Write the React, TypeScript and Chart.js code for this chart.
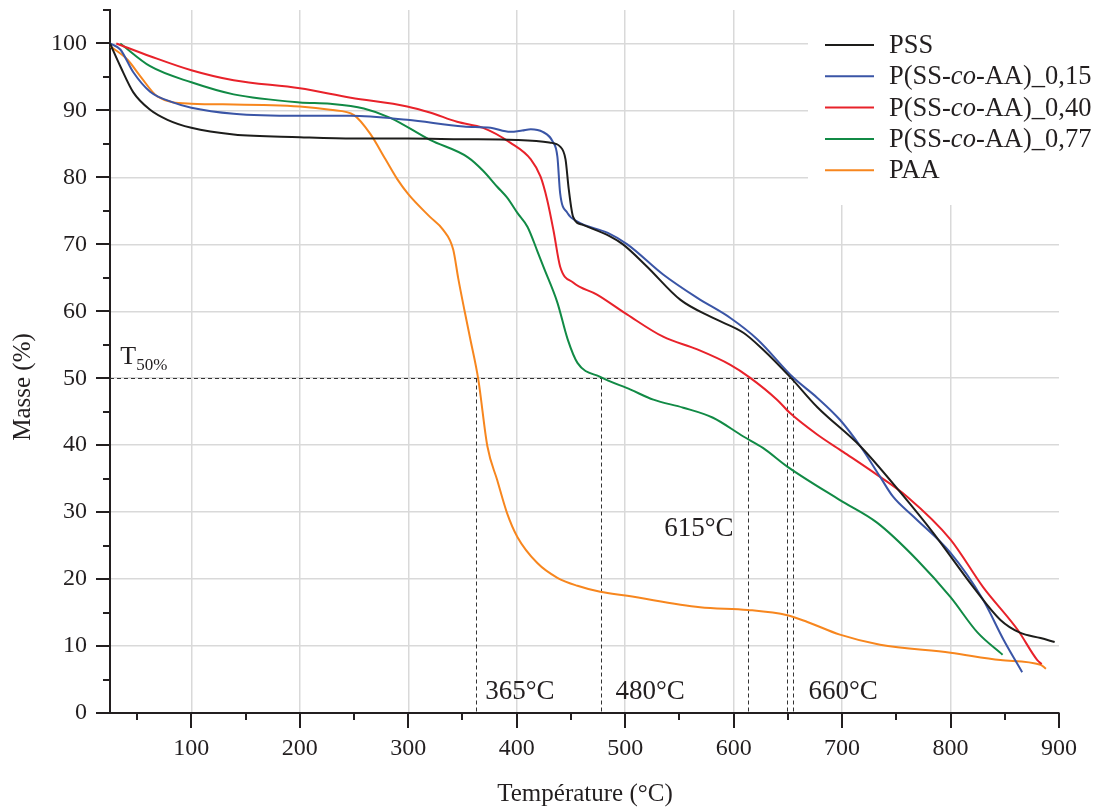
import React, { useEffect, useRef } from "react";
import { Chart, registerables } from "chart.js";

Chart.register(...registerables);

// ---- Data (temperature °C, mass %) ----
const pssT = [25, 34.5, 46.5, 62, 78, 100, 139, 200, 250, 300, 350, 400, 430, 440, 445, 448, 452, 461, 486, 498, 520, 551, 581, 609, 627, 652, 677, 717, 754, 784, 821, 846, 864, 883, 896];
const pssM = [100, 96.6, 92.7, 90.1, 88.6, 87.4, 86.4, 86.0, 85.8, 85.8, 85.7, 85.6, 85.2, 84.6, 82.7, 78.2, 74.1, 72.9, 71.2, 70.0, 66.7, 61.7, 59.0, 56.8, 54.3, 50.2, 45.7, 39.8, 32.9, 26.9, 18.8, 13.9, 12.0, 11.2, 10.6];

const p15T = [25, 34.5, 46.5, 62, 83, 100, 139, 200, 247, 299, 351, 376, 394, 405, 413, 424, 433, 437.5, 440, 446.7, 456, 484, 502, 535, 566.5, 597, 622, 655, 677, 698, 717, 735, 747, 766, 800, 830, 849, 866];
const p15M = [100, 99.1, 95.7, 92.8, 91.2, 90.4, 89.5, 89.2, 89.2, 88.6, 87.6, 87.4, 86.8, 87.0, 87.2, 86.8, 85.4, 83.1, 77.7, 74.7, 73.4, 71.7, 70.0, 65.5, 62.0, 59.0, 55.8, 50.1, 47.1, 43.8, 39.8, 35.3, 32.3, 29.3, 23.9, 16.9, 10.9, 6.1];

const p40T = [30.8, 62, 100, 139, 200, 247, 299, 320, 345, 369, 394, 413, 422, 428, 434, 440, 452, 474, 502, 535, 566.5, 597, 615, 640, 652, 677, 701, 732, 760, 800, 830, 862, 880, 884];
const p40M = [100, 98.1, 96.0, 94.5, 93.3, 91.9, 90.6, 89.7, 88.3, 87.4, 85.2, 82.7, 80.1, 76.7, 72.0, 66.7, 64.3, 62.5, 59.5, 56.2, 54.3, 52.0, 50.1, 46.8, 44.8, 41.6, 39.0, 35.6, 32.3, 25.9, 18.8, 12.4, 7.9, 7.3];

const p77T = [34.5, 62, 100, 139, 200, 228, 259, 283.5, 320, 355, 369, 382, 391, 400.6, 410, 419, 424.5, 437.5, 447, 456, 477, 505, 526, 553.6, 581, 609, 627, 649.5, 698, 732.5, 769, 800, 825, 848];
const p77M = [100, 96.6, 94.2, 92.4, 91.2, 91.0, 90.3, 88.9, 85.6, 83.0, 81.0, 78.6, 77.0, 74.7, 72.6, 69.0, 66.7, 61.3, 55.8, 52.3, 50.2, 48.3, 46.8, 45.6, 44.1, 41.3, 39.6, 36.8, 31.8, 28.4, 22.9, 17.3, 12.0, 8.7];

const paaT = [25, 41, 53, 68.6, 100, 139, 200, 228, 250, 265, 279, 290, 300, 320, 332, 341.5, 346, 352, 357, 364.6, 373, 382, 391, 400.6, 419, 437.5, 456, 477, 502, 569, 613, 649.5, 668, 698, 735, 800, 846, 883, 888];
const paaM = [99.6, 97.6, 95.1, 92.1, 91.0, 90.9, 90.6, 90.1, 89.3, 86.5, 82.7, 79.7, 77.5, 74.1, 72.2, 69.2, 65.0, 60.0, 56.0, 49.8, 39.8, 34.8, 29.9, 26.3, 22.4, 20.2, 19.0, 18.1, 17.5, 15.8, 15.4, 14.6, 13.6, 11.7, 10.2, 9.0, 7.9, 7.2, 6.6];

const seriesNames = ["PSS", "P(SS-co-AA)_0,15", "P(SS-co-AA)_0,40", "P(SS-co-AA)_0,77", "PAA"];
const seriesColors = ["#1d1d1b", "#3a55a6", "#e8222a", "#118a45", "#f7861e"];
const seriesT = [pssT, p15T, p40T, p77T, paaT];
const seriesM = [pssM, p15M, p40M, p77M, paaM];

// axis ticks
const xTicks = [100, 200, 300, 400, 500, 600, 700, 800, 900];
const yTicks = [0, 10, 20, 30, 40, 50, 60, 70, 80, 90, 100];

// T50% annotation
const t50Level = 50;
const t50Temps = [362, 478, 613.5, 649.5, 655];
const t50Labels = ["365°C", "480°C", "615°C", "660°C"];
const t50LabelT = [371, 491, 536, 669];
const t50LabelM = [2.1, 2.1, 26.5, 2.1];

const FONT = "'Liberation Serif', 'Times New Roman', serif";
const INK = "#231f20";

const overlayPlugin = {
  id: "overlay",
  beforeDatasetsDraw(chart: any) {
    const { ctx, scales } = chart;
    const x = scales.x, y = scales.y;
    ctx.save();
    // legend background hides grid
    ctx.fillStyle = "#ffffff";
    ctx.fillRect(808, 0, 1097 - 808, 205);
    // dashed T50 lines
    ctx.strokeStyle = "#333333";
    ctx.lineWidth = 1;
    ctx.setLineDash([4, 3]);
    const y50 = Math.round(y.getPixelForValue(t50Level)) + 0.5;
    const y0 = y.getPixelForValue(0);
    ctx.beginPath();
    ctx.moveTo(x.left, y50);
    ctx.lineTo(x.getPixelForValue(Math.max(...t50Temps)), y50);
    ctx.stroke();
    t50Temps.forEach((t) => {
      const px = Math.round(x.getPixelForValue(t)) + 0.5;
      ctx.beginPath();
      ctx.moveTo(px, y50);
      ctx.lineTo(px, y0);
      ctx.stroke();
    });
    ctx.restore();
  },
  afterDraw(chart: any) {
    const { ctx, scales } = chart;
    const x = scales.x, y = scales.y;
    ctx.save();
    ctx.strokeStyle = INK;
    ctx.lineWidth = 2;
    // y ticks
    for (let v = 0; v <= 105; v += 5) {
      const py = Math.round(y.getPixelForValue(v));
      const len = v % 10 === 0 ? 14 : 7;
      ctx.beginPath();
      ctx.moveTo(x.left - len, py);
      ctx.lineTo(x.left, py);
      ctx.stroke();
    }
    // x ticks
    for (let v = 50; v <= 900; v += 50) {
      const px = Math.round(x.getPixelForValue(v));
      const len = v % 100 === 0 ? 15 : 7;
      ctx.beginPath();
      ctx.moveTo(px, y.bottom);
      ctx.lineTo(px, y.bottom + len);
      ctx.stroke();
    }
    // annotation labels
    ctx.fillStyle = INK;
    ctx.textBaseline = "alphabetic";
    ctx.textAlign = "left";
    ctx.font = `27px ${FONT}`;
    t50Labels.forEach((lbl, i) => {
      ctx.fillText(lbl, x.getPixelForValue(t50LabelT[i]), y.getPixelForValue(t50LabelM[i]));
    });
    // T50%
    const tx = x.getPixelForValue(34.5);
    const ty = y.getPixelForValue(52.2);
    ctx.font = `26px ${FONT}`;
    ctx.fillText("T", tx, ty);
    const tw = ctx.measureText("T").width;
    ctx.font = `17px ${FONT}`;
    ctx.fillText("50%", tx + tw, ty + 6);
    // axis titles
    ctx.font = `25px ${FONT}`;
    ctx.textAlign = "center";
    ctx.fillText("Température (°C)", 585, 801);
    ctx.save();
    ctx.translate(30, 387);
    ctx.rotate(-Math.PI / 2);
    ctx.fillText("Masse (%)", 0, 0);
    ctx.restore();
    // legend
    ctx.textAlign = "left";
    ctx.textBaseline = "middle";
    const LF = 26.5;
    seriesNames.forEach((name, i) => {
      const ly = 45 + i * 31.3;
      ctx.strokeStyle = seriesColors[i];
      ctx.lineWidth = 2;
      ctx.beginPath();
      ctx.moveTo(825, ly);
      ctx.lineTo(874, ly);
      ctx.stroke();
      ctx.fillStyle = INK;
      let cx = 889;
      const parts = name.split("co");
      if (parts.length === 2) {
        ctx.font = `${LF}px ${FONT}`;
        ctx.fillText(parts[0], cx, ly + 1);
        cx += ctx.measureText(parts[0]).width;
        ctx.font = `italic ${LF}px ${FONT}`;
        ctx.fillText("co", cx, ly + 1);
        cx += ctx.measureText("co").width;
        ctx.font = `${LF}px ${FONT}`;
        ctx.fillText(parts[1], cx, ly + 1);
      } else {
        ctx.font = `${LF}px ${FONT}`;
        ctx.fillText(name, cx, ly + 1);
      }
    });
    ctx.restore();
  },
};

export default function App() {
  const ref = useRef<HTMLCanvasElement>(null);
  useEffect(() => {
    document.body.style.margin = "0";
    const canvas = ref.current!;
    const datasets = seriesNames.map((name, i) => ({
      label: name,
      data: seriesT[i].map((t, j) => ({ x: t, y: seriesM[i][j] })),
      borderColor: seriesColors[i],
      backgroundColor: seriesColors[i],
      borderWidth: 2,
      pointRadius: 0,
      fill: false,
      cubicInterpolationMode: "monotone" as const,
    }));
    const chart = new Chart(canvas, {
      type: "line",
      data: { datasets },
      plugins: [overlayPlugin],
      options: {
        animation: false,
        responsive: false,
        devicePixelRatio: 1,
        layout: { padding: { left: 0, right: 38, top: 10, bottom: 0 } },
        plugins: { legend: { display: false }, tooltip: { enabled: false } },
        scales: {
          x: {
            type: "linear",
            min: 25,
            max: 900,
            afterBuildTicks: (s: any) => {
              s.ticks = xTicks.map((v) => ({ value: v }));
            },
            afterFit: (s: any) => {
              s.height = 94;
              s.paddingLeft = 0;
              s.paddingRight = 0;
            },
            grid: {
              drawTicks: false,
              color: (c: any) => (c.tick && c.tick.value === 900 ? "rgba(0,0,0,0)" : "#d9d9d9"),
              lineWidth: 1.5,
            },
            border: { display: true, color: INK, width: 2 },
            ticks: {
              padding: 21,
              color: INK,
              font: { family: FONT, size: 24 },
              maxRotation: 0,
            },
          },
          y: {
            type: "linear",
            min: 0,
            max: 105,
            afterBuildTicks: (s: any) => {
              s.ticks = yTicks.map((v) => ({ value: v }));
            },
            afterFit: (s: any) => {
              s.width = 110;
              s.paddingTop = 0;
              s.paddingBottom = 0;
            },
            grid: { drawTicks: false, color: "#d9d9d9", lineWidth: 1.5 },
            border: { display: true, color: INK, width: 2 },
            ticks: {
              padding: 23,
              color: INK,
              font: { family: FONT, size: 24 },
            },
          },
        },
      },
    });
    return () => chart.destroy();
  }, []);
  return (
    <div style={{ position: "absolute", left: 0, top: 0 }}>
      <canvas ref={ref} width={1097} height={807} style={{ width: 1097, height: 807 }} />
    </div>
  );
}
